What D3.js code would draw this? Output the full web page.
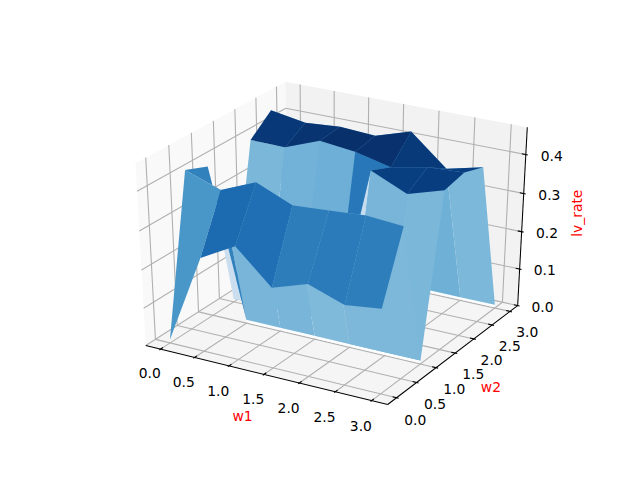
<!DOCTYPE html>
<html><head><meta charset="utf-8"><style>html,body{margin:0;background:#fff}svg{display:block}text{font-family:"DejaVu Sans"}</style>
<script src="https://cdn.jsdelivr.net/npm/d3@7"></script></head><body><svg id="c" width="640" height="480"></svg>
<script>
const w1 = [0,0.5,1,1.5,2,2.5,3];
const w2 = [0,0.5,1,1.5,2,2.5,3];
const zTicks=[0,0.1,0.2,0.3,0.4];
const row0=[0.009,0.245,0.295,0.21,0.24,0.208,0.22];
const row1=[0.415,0.383,0.421,0.383,0.389,0.396,0.389];
const row2=[0.392,0.009,0.009,0.009,0.009,0.009,0.009];
const row3=[0.009,0.009,0.009,0.009,0.423,0.383,0.411];
const row4=[0.398,0.397,0.431,0.421,0.4,0.418,0.423];
const row5=[0.444,0.429,0.436,0.431,0.459,0.383,0.405];
const row6=[0.009,0.009,0.009,0.009,0.009,0.009,0.009];
const rows=[row0,row1,row2,row3,row4,row5,row6];
const xLabel="w1",yLabel="w2",zLabel="lv_rate";
const blues=["#f7fbff","#deebf7","#c6dbef","#9ecae1","#6baed6","#4292c6","#2171b5","#08519c","#08306b"];

const svg=d3.select("#c");
const xlim=[-0.15,3.15],ylim=[-0.15,3.15],zlim=[0.0094,0.4594];
const sx=d3.scaleLinear().domain(xlim).range([0,1]),sy=d3.scaleLinear().domain(ylim).range([0,1]),sz=d3.scaleLinear().domain(zlim).range([0,1]);
const px=d3.scaleLinear().domain([-0.095,0.09]).range([80,576]),py=d3.scaleLinear().domain([-0.095,0.09]).range([427.2,57.6]);
const az=-60*Math.PI/180,el=30*Math.PI/180,dist=10;
const n=[Math.cos(az)*Math.cos(el),Math.sin(az)*Math.cos(el),Math.sin(el)];
const u=[-n[1],n[0],0].map(d=>d/Math.hypot(n[0],n[1]));
const v=[-n[2]*u[1],n[2]*u[0],n[0]*u[1]-n[1]*u[0]];
const dot=(a,b)=>a[0]*b[0]+a[1]*b[1]+a[2]*b[2];
function proj(w){const p=[w[0]-.5,w[1]-.5,w[2]-.5];const d=dist-dot(n,p);return [px(dot(u,p)/d),py(dot(v,p)/d),d];}
const P=(x,y,z)=>proj([sx(x),sy(y),sz(z)]);
const m=1/48,delta=1/12,lo=-m,hi=1+m;
const W=(a,b,c)=>proj([a,b,c]);
const path=d3.line();
function poly(pts,f){svg.append("path").attr("d",path(pts.map(p=>[p[0],p[1]]))+"Z").attr("fill",f);}
poly([W(lo,lo,lo),W(hi,lo,lo),W(hi,hi,lo),W(lo,hi,lo)],"#f5f5f5");
poly([W(lo,lo,lo),W(lo,hi,lo),W(lo,hi,hi),W(lo,lo,hi)],"#f9f9f9");
poly([W(lo,hi,lo),W(hi,hi,lo),W(hi,hi,hi),W(lo,hi,hi)],"#f2f2f2");
function ln(a,b,c,wd){svg.append("line").attr("x1",a[0]).attr("y1",a[1]).attr("x2",b[0]).attr("y2",b[1]).attr("stroke",c).attr("stroke-width",wd);}
for(const t of w1){const a=sx(t);ln(W(a,lo,lo),W(a,hi,lo),"#b0b0b0",1.1);ln(W(a,hi,lo),W(a,hi,hi),"#b0b0b0",1.1);}
for(const t of w2){const a=sy(t);ln(W(lo,a,lo),W(hi,a,lo),"#b0b0b0",1.1);ln(W(lo,a,lo),W(lo,a,hi),"#b0b0b0",1.1);}
for(const t of zTicks){const a=sz(t);ln(W(lo,lo,a),W(lo,hi,a),"#b0b0b0",1.1);ln(W(lo,hi,a),W(hi,hi,a),"#b0b0b0",1.1);}
ln(W(lo,lo,lo),W(hi,lo,lo),"#000",1.04);ln(W(hi,lo,lo),W(hi,hi,lo),"#000",1.04);ln(W(hi,hi,lo),W(hi,hi,hi),"#000",1.04);
const out=0.1*delta,inw=0.2*delta,ld=0.078,lz=0.072,dyTick=4;
function label(p,s,c,rot,dy){const y=p[1]+(dy||0);const t=svg.append("text").attr("x",p[0]).attr("y",y).attr("font-size",13.89).attr("text-anchor","middle").attr("dominant-baseline","central").attr("fill",c||"#000").text(s);
 if(rot)t.attr("transform",`rotate(${rot},${p[0]},${y})`);}
w1.forEach(t=>{const a=sx(t);ln(W(a,lo-out,lo),W(a,lo+inw,lo),"#000",1.1);label(W(a,lo-ld,lo-ld),t.toFixed(1),null,0,dyTick);});
w2.forEach(t=>{const a=sy(t);ln(W(hi+out,a,lo),W(hi-inw,a,lo),"#000",1.1);label(W(hi+ld,a,lo-ld),t.toFixed(1),null,0,dyTick);});
zTicks.forEach(t=>{const a=sz(t);ln(W(hi+out,hi,a),W(hi-inw,hi,a),"#000",1.1);label(W(hi+lz,hi+lz,a),t.toFixed(1),null,0,dyTick);});
const ad=0.155;
label(W(.5,lo-ad,lo-ad),xLabel,"red");
label(W(hi+ad,.5,lo-ad),yLabel,"red");
label(W(hi+ad,hi+ad,.5),zLabel,"red",-90);
// pale rim that runs just under the wall feet resting on the floor
[2,6].forEach(j=>{rows[j].forEach((z,i)=>{ if(i&&z===rows[j][i-1]){const a=P(w1[i-1],w2[j],z),b=P(w1[i],w2[j],z);
 ln([a[0],a[1]+1.2],[b[0],b[1]+1.2],"#fbfdff",2.6);}});});
const color=d3.scaleLinear().domain(blues.map((_,i)=>i/8)).range(blues);
const quads=[];
for(let j=0;j<rows.length-1;j++)for(let i=0;i<w1.length-1;i++){
 const c=[[i,j],[i+1,j],[i+1,j+1],[i,j+1]].map(([a,b])=>P(w1[a],w2[b],rows[b][a]));
 const zs=[rows[j][i],rows[j][i+1],rows[j+1][i+1],rows[j+1][i]];
 quads.push({c,avg:d3.mean(zs),depth:d3.mean(c,p=>p[2])});}
const ext=d3.extent(quads,q=>q.avg);
const norm=d3.scaleLinear().domain(ext).range([0,1]);
quads.sort((a,b)=>d3.descending(a.depth,b.depth));
svg.append("g").selectAll("path").data(quads).join("path").attr("d",q=>path(q.c.map(p=>[p[0],p[1]]))+"Z").attr("fill",q=>color(norm(q.avg)));
</script></body></html>
